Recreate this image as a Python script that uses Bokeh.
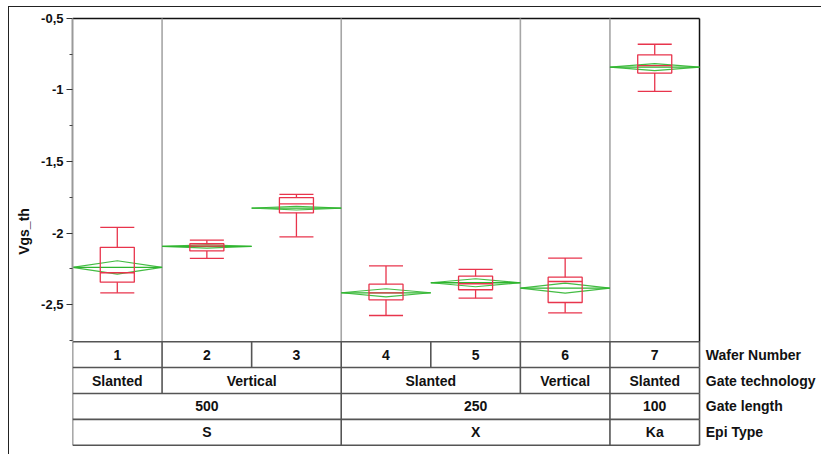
from bokeh.plotting import figure
from bokeh.models import FixedTicker, CustomJSTickFormatter, Range1d
from bokeh.embed import file_html
from bokeh.resources import INLINE
from bokeh.core.properties import value

# ---- data ----
wafers = [1, 2, 3, 4, 5, 6, 7]
whisk_hi = [-1.96, -2.05, -1.73, -2.23, -2.255, -2.175, -0.68]
q3 = [-2.10, -2.075, -1.752, -2.358, -2.302, -2.309, -0.754]
median = [-2.278, -2.092, -1.796, -2.418, -2.355, -2.339, -0.829]
q1 = [-2.344, -2.125, -1.859, -2.467, -2.397, -2.486, -0.882]
whisk_lo = [-2.418, -2.178, -2.027, -2.577, -2.456, -2.558, -1.01]
mean = [-2.241, -2.094, -1.826, -2.418, -2.348, -2.386, -0.84]
ci = [0.047, 0.012, 0.013, 0.028, 0.028, 0.035, 0.025]

wafer_labels = ["1", "2", "3", "4", "5", "6", "7"]
gate_tech = ["Slanted", "Vertical", "Vertical", "Slanted", "Slanted", "Vertical", "Slanted"]
gate_len = ["500", "500", "500", "250", "250", "250", "100"]
epi_type = ["S", "S", "S", "X", "X", "X", "Ka"]
row_names = ["Wafer Number", "Gate technology", "Gate length", "Epi Type"]

y_ticks = [-2.5, -2.0, -1.5, -1.0, -0.5]
y_minor = [-2.75, -2.25, -1.75, -1.25, -0.75]

# ---- layout constants ----
Y_TOP = -0.5
Y_BOT = -2.76
ROW_H = 0.181
BOX_HW = 0.19
RED = "#e8344c"
GREEN = "#2fb52f"
FONT = "Liberation Sans"


def groups(labels):
    out = []
    start = 0
    for i in range(1, len(labels) + 1):
        if i == len(labels) or labels[i] != labels[start]:
            out.append((wafers[start] - 0.5, wafers[i - 1] + 0.5, labels[start]))
            start = i
    return out


p = figure(width=813, height=448,
           x_range=Range1d(0.5, 8.873), y_range=Range1d(-3.5559, -0.4231),
           x_axis_location=None, y_axis_location="left",
           output_backend="svg", toolbar_location=None,
           min_border_left=63, min_border_right=0,
           min_border_top=0, min_border_bottom=0)
p.styles = {"margin-left": "8px", "margin-top": "6px",
            "border-top": "1px solid #222", "border-left": "1px solid #222"}
p.grid.visible = False
p.outline_line_color = None

ax = p.yaxis[0]
ax.ticker = FixedTicker(ticks=y_ticks, minor_ticks=y_minor)
ax.bounds = (Y_BOT, Y_TOP)
ax.formatter = CustomJSTickFormatter(code="return tick.toString().replace('.', ',');")
ax.axis_line_color = "#9a9a9a"
ax.axis_line_width = 2
ax.major_tick_line_color = "#333333"
ax.major_tick_out = 6
ax.major_tick_in = 0
ax.minor_tick_line_color = "#444444"
ax.minor_tick_out = 3
ax.minor_tick_in = 0
ax.major_label_text_font = FONT
ax.major_label_text_font_style = "bold"
ax.major_label_text_font_size = "13px"
ax.major_label_text_color = "#111111"
ax.major_label_standoff = 3
ax.axis_label = "Vgs_th"
ax.axis_label_text_font = FONT
ax.axis_label_text_font_style = "bold"
ax.axis_label_text_font_size = "14px"
ax.axis_label_text_color = "#111111"
ax.axis_label_standoff = 6

x_lo = wafers[0] - 0.5
x_hi = wafers[-1] + 0.5

# plot frame (top and right)
p.segment(x0=[x_lo, x_hi], y0=[Y_TOP, Y_TOP], x1=[x_hi, x_hi], y1=[Y_TOP, Y_BOT],
          line_color="#111111", line_width=1.5)

# group separators inside the plot (gate technology groups)
seps = [g[1] for g in groups(gate_tech)[:-1]]
p.segment(x0=seps, y0=[Y_BOT] * len(seps), x1=seps, y1=[Y_TOP] * len(seps),
          line_color="#a6a6a6", line_width=1.6)

# diamonds (mean and confidence)
dx = [[w - 0.5, w, w + 0.5, w] for w in wafers]
dy = [[m, m + c, m, m - c] for m, c in zip(mean, ci)]
p.patches(xs=dx, ys=dy, fill_color=None, line_color=GREEN, line_width=1.2, line_alpha=0.9)
p.segment(x0=[w - 0.5 for w in wafers], y0=mean, x1=[w + 0.5 for w in wafers], y1=mean,
          line_color=GREEN, line_width=1.3)

# box plots
p.quad(left=[w - BOX_HW for w in wafers], right=[w + BOX_HW for w in wafers],
       top=q3, bottom=q1, fill_color=None, line_color=RED, line_width=1.3)
p.segment(x0=[w - BOX_HW for w in wafers], y0=median, x1=[w + BOX_HW for w in wafers], y1=median,
          line_color=RED, line_width=1.3)
p.segment(x0=wafers, y0=q3, x1=wafers, y1=whisk_hi, line_color=RED, line_width=1.3)
p.segment(x0=wafers, y0=q1, x1=wafers, y1=whisk_lo, line_color=RED, line_width=1.3)
p.segment(x0=[w - BOX_HW for w in wafers], y0=whisk_hi, x1=[w + BOX_HW for w in wafers], y1=whisk_hi,
          line_color=RED, line_width=1.3)
p.segment(x0=[w - BOX_HW for w in wafers], y0=whisk_lo, x1=[w + BOX_HW for w in wafers], y1=whisk_lo,
          line_color=RED, line_width=1.3)

# ---- table ----
rows = [wafer_labels, gate_tech, gate_len, epi_type]
row_edges = [Y_BOT - k * ROW_H for k in range(len(rows) + 1)]
p.segment(x0=[x_lo] * len(row_edges), y0=row_edges, x1=[x_hi] * len(row_edges), y1=row_edges,
          line_color="#555555", line_width=1.6)

vx, vy0, vy1 = [], [], []
tx, ty, tt = [], [], []
for k, labels in enumerate(rows):
    top = row_edges[k]
    bot = row_edges[k + 1]
    gs = groups(labels)
    edges = [gs[0][0]] + [g[1] for g in gs]
    for e in edges:
        vx.append(e)
        vy0.append(bot)
        vy1.append(top)
    for g in gs:
        tx.append((g[0] + g[1]) / 2)
        ty.append((top + bot) / 2)
        tt.append(g[2])
p.segment(x0=vx, y0=vy0, x1=vx, y1=vy1, line_color="#555555", line_width=1.6)
p.text(x=tx, y=ty, text=tt, text_align="center", text_baseline="middle",
       text_font=value(FONT), text_font_style="bold", text_font_size="14px",
       text_color="#111111")

p.text(x=[x_hi + 0.07] * len(row_names),
       y=[(row_edges[k] + row_edges[k + 1]) / 2 for k in range(len(row_names))],
       text=row_names, text_align="left", text_baseline="middle",
       text_font=value(FONT), text_font_style="bold", text_font_size="14px",
       text_color="#111111")

open("out.html", "w").write(file_html(p, INLINE))
